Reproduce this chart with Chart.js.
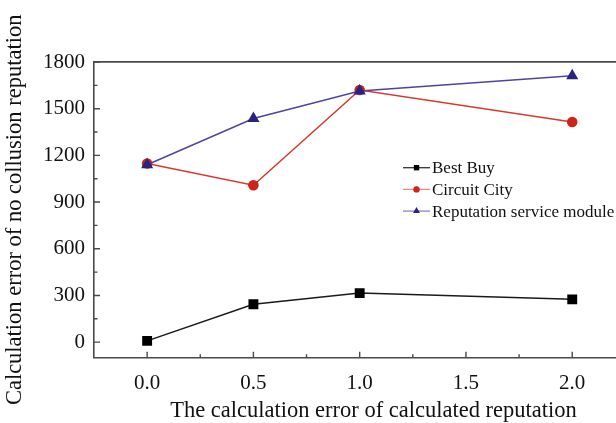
<!DOCTYPE html>
<html>
<head>
<meta charset="utf-8">
<script src="https://cdn.jsdelivr.net/npm/chart.js@4.4.1/dist/chart.umd.min.js"></script>
<style>
  html, body { margin: 0; padding: 0; background: #fff; }
  #wrap { width: 616px; height: 423px; overflow: hidden; position: relative; }
  #chart { position: absolute; left: 0; top: 0; }
</style>
</head>
<body>
<div id="wrap"><canvas id="chart" width="660" height="423"></canvas></div>
<script>
// values
const xValues = [0, 0.5, 1.0, 2.0];
const bestBuy = [8, 243, 315, 275];
const circuitCity = [1148, 1008, 1620, 1414];
const reputationModule = [1140, 1437, 1613, 1712];

const xTicks = [0, 0.5, 1.0, 1.5, 2.0];
const yTicks = [0, 300, 600, 900, 1200, 1500, 1800];
const xMinorTicks = [0.25, 0.75, 1.25, 1.75];
const yMinorTicks = [150, 450, 750, 1050, 1350, 1650];

const seriesNames = ["Best Buy", "Circuit City", "Reputation service module"];

const SERIF = "'Liberation Serif', 'DejaVu Serif', serif";
const AXIS_COLOR = "#4a4a4a";

function pts(ys) {
  return xValues.map((x, i) => ({ x, y: ys[i] }));
}

const styles = [
  { line: "#1a1a1a", point: "#000000", legendLine: "#333", pointStyle: "rect", radius: 7, legendRadius: 3.8 },
  { line: "#d8392b", point: "#cc2418", legendLine: "#ee8a80", pointStyle: "circle", radius: 5.3, legendRadius: 3.2 },
  { line: "#4d45a3", point: "#2b2280", legendLine: "#8a84c4", pointStyle: "triangle", radius: 7, legendRadius: 4 },
];

const seriesData = [bestBuy, circuitCity, reputationModule];

const datasets = seriesData.map((ys, i) => ({
  label: seriesNames[i],
  data: pts(ys),
  borderColor: styles[i].line,
  borderWidth: 1.5,
  backgroundColor: styles[i].point,
  pointBackgroundColor: styles[i].point,
  pointBorderColor: styles[i].point,
  pointBorderWidth: 0,
  pointStyle: styles[i].pointStyle,
  pointRadius: styles[i].radius,
  tension: 0,
  order: 3 - i,
}));

// inward tick marks + legend drawn inside the plot
const decorPlugin = {
  id: "decor",
  afterDraw(chart) {
    const ctx = chart.ctx;
    const xs = chart.scales.x, ys = chart.scales.y;
    const area = chart.chartArea;
    ctx.save();
    ctx.strokeStyle = AXIS_COLOR;
    ctx.lineWidth = 1.4;
    ctx.beginPath();
    xTicks.forEach(v => {
      const px = xs.getPixelForValue(v);
      ctx.moveTo(px, area.bottom); ctx.lineTo(px, area.bottom - 6);
    });
    xMinorTicks.forEach(v => {
      const px = xs.getPixelForValue(v);
      ctx.moveTo(px, area.bottom); ctx.lineTo(px, area.bottom - 3.5);
    });
    yTicks.forEach(v => {
      const py = ys.getPixelForValue(v);
      ctx.moveTo(area.left, py); ctx.lineTo(area.left + 6, py);
    });
    yMinorTicks.forEach(v => {
      const py = ys.getPixelForValue(v);
      ctx.moveTo(area.left, py); ctx.lineTo(area.left + 3.5, py);
    });
    ctx.stroke();

    // legend
    const lx = 403, ly = 167.7, gap = 21.7;
    ctx.font = "17px " + SERIF;
    ctx.textBaseline = "middle";
    ctx.textAlign = "left";
    seriesNames.forEach((name, i) => {
      const y = ly + i * gap;
      const s = styles[i];
      ctx.strokeStyle = s.legendLine;
      ctx.lineWidth = 1.3;
      ctx.beginPath();
      ctx.moveTo(lx, y); ctx.lineTo(lx + 27, y);
      ctx.stroke();
      ctx.fillStyle = s.point;
      ctx.strokeStyle = s.point;
      Chart.helpers.drawPoint(ctx, { pointStyle: s.pointStyle, radius: s.legendRadius, rotation: 0, borderWidth: 0 }, lx + 13.5, y);
      ctx.fillStyle = "#111";
      ctx.fillText(name, lx + 29, y + 1);
    });
    ctx.restore();
  }
};

new Chart(document.getElementById("chart"), {
  type: "line",
  data: { datasets },
  plugins: [decorPlugin],
  options: {
    responsive: false,
    animation: false,
    devicePixelRatio: 1,
    layout: { padding: { top: 62, left: 0, right: 4, bottom: 0 } },
    plugins: { legend: { display: false }, tooltip: { enabled: false } },
    scales: {
      x: {
        type: "linear",
        position: "bottom",
        min: -0.25,
        max: 2.38,
        afterBuildTicks: (scale) => { scale.ticks = xTicks.map(v => ({ value: v })); },
        afterFit: (scale) => { scale.height = 65.3; },
        grid: { display: false, drawTicks: false },
        border: { display: true, color: AXIS_COLOR, width: 1.6 },
        ticks: {
          color: "#111",
          font: { family: SERIF, size: 21 },
          padding: 13,
          maxRotation: 0,
          callback: (v) => Number(v).toFixed(1),
        },
        title: {
          display: true,
          text: "The calculation error of calculated reputation",
          color: "#111",
          font: { family: SERIF, size: 22.5 },
          padding: { top: 0, bottom: -1.5 },
        },
      },
      xTop: {
        type: "linear",
        position: "top",
        min: -0.25,
        max: 2.38,
        afterFit: (scale) => { scale.height = 0; },
        grid: { display: false, drawTicks: false },
        border: { display: true, color: AXIS_COLOR, width: 1.8 },
        ticks: { display: false },
      },
      y: {
        type: "linear",
        position: "left",
        min: -100,
        max: 1800,
        afterBuildTicks: (scale) => { scale.ticks = yTicks.map(v => ({ value: v })); },
        afterFit: (scale) => { scale.width = 94; },
        grid: { display: false, drawTicks: false },
        border: { display: true, color: AXIS_COLOR, width: 1.6 },
        ticks: {
          color: "#111",
          font: { family: SERIF, size: 21 },
          padding: 9,
          callback: (v) => String(v),
        },
        title: {
          display: true,
          text: "Calculation error of no collusion reputation",
          color: "#111",
          font: { family: SERIF, size: 22.5 },
          padding: { top: 1.5, bottom: 0 },
        },
      },
    },
  },
});
</script>
</body>
</html>
